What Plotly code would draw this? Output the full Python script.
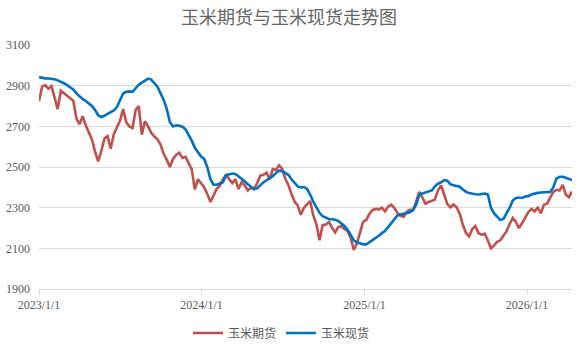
import pandas as pd
import plotly.graph_objects as go

# Weekly closing levels (元/吨), first week starting 2023-01-01
start_date = "2023-01-01"

futures = [
    2824, 2895, 2903, 2885, 2898, 2835, 2785, 2875, 2864, 2850,
    2838, 2826, 2740, 2710, 2750, 2705, 2672, 2634, 2575, 2528,
    2580, 2640, 2652, 2590, 2662, 2700, 2729, 2785, 2720, 2700,
    2692, 2780, 2800, 2660, 2725, 2700, 2668, 2650, 2636, 2610,
    2565, 2535, 2500, 2540, 2560, 2571, 2545, 2550, 2523, 2490,
    2390, 2440, 2420, 2400, 2368, 2328, 2360, 2392, 2408, 2440,
    2460, 2440, 2421, 2440, 2392, 2425, 2410, 2385, 2398, 2392,
    2421, 2458, 2462, 2472, 2440, 2490, 2486, 2508, 2492, 2444,
    2412, 2368, 2330, 2312, 2265, 2300, 2318, 2333, 2262, 2218,
    2140, 2215, 2218, 2230, 2202, 2178, 2205, 2210, 2195, 2185,
    2152, 2092, 2125, 2185, 2232, 2240, 2270, 2288, 2294, 2292,
    2300, 2282, 2305, 2315, 2300, 2275, 2260, 2256, 2280, 2290,
    2288, 2330, 2378, 2350, 2320, 2328, 2333, 2340, 2385, 2410,
    2365, 2318, 2302, 2316, 2302, 2270, 2215, 2175, 2160, 2195,
    2210, 2175, 2168, 2172, 2140, 2100, 2115, 2132, 2140, 2165,
    2185, 2220, 2250, 2230, 2200, 2225, 2250, 2278, 2294, 2282,
    2300, 2272, 2315, 2320, 2350, 2378, 2388, 2385, 2412, 2365,
    2352, 2380,
]

spot = [
    2942, 2938, 2936, 2935, 2934, 2932, 2926, 2920, 2912, 2903,
    2893, 2882, 2862, 2846, 2835, 2825, 2812, 2800, 2780, 2755,
    2746, 2752, 2762, 2770, 2778, 2795, 2825, 2862, 2870, 2872,
    2870, 2890, 2905, 2915, 2925, 2935, 2930, 2915, 2895, 2862,
    2830, 2785, 2720, 2700, 2705, 2703, 2698, 2685, 2660, 2630,
    2595, 2570, 2552, 2540, 2500, 2440, 2413, 2413, 2418, 2425,
    2460, 2465, 2468, 2466, 2455, 2444, 2430, 2415, 2405, 2392,
    2395, 2412, 2425, 2435, 2443, 2455, 2470, 2482, 2480, 2472,
    2462, 2440, 2425, 2405, 2400, 2402, 2392, 2365, 2330, 2300,
    2275, 2258, 2250, 2245, 2243, 2241, 2235, 2223, 2210, 2192,
    2165, 2140, 2130, 2125, 2120, 2120, 2130, 2140, 2152, 2162,
    2175, 2185, 2205, 2223, 2243, 2262, 2267, 2270, 2274, 2278,
    2290, 2315, 2365, 2370, 2375, 2380, 2385, 2405, 2418, 2425,
    2436, 2433, 2415, 2410, 2407, 2403, 2390, 2378, 2372, 2368,
    2366, 2365, 2368, 2370, 2365, 2300, 2272, 2255, 2240, 2245,
    2270, 2300, 2335, 2348, 2350, 2348, 2355, 2357, 2365, 2370,
    2373, 2375, 2377, 2378, 2378, 2400, 2443, 2452, 2452, 2447,
    2442, 2436,
]

year_ticks = ["2023-01-01", "2024-01-01", "2025-01-01", "2026-01-01"]
year_labels = ["2023/1/1", "2024/1/1", "2025/1/1", "2026/1/1"]
y_ticks = [1900, 2100, 2300, 2500, 2700, 2900, 3100]

dates = pd.date_range(start=start_date, periods=len(futures), freq="7D")

FONT = "Liberation Serif, 'Noto Sans CJK SC', serif"
CJK = "'Noto Sans CJK SC', sans-serif"
GRID = "#D9D9D9"
TEXT = "#595959"

fig = go.Figure()
fig.add_trace(go.Scatter(
    x=dates, y=futures, mode="lines", name="玉米期货",
    line=dict(color="#C0504D", width=2.6),
))
fig.add_trace(go.Scatter(
    x=dates, y=spot, mode="lines", name="玉米现货",
    line=dict(color="#0070C0", width=2.6),
))

fig.update_layout(
    width=578, height=350,
    margin=dict(l=35, r=6, t=45, b=52),
    paper_bgcolor="white", plot_bgcolor="white",
    font=dict(family=FONT, size=12, color=TEXT),
    title=dict(
        text="玉米期货与玉米现货走势图",
        x=0.5, xanchor="center", xref="container",
        y=1 - 18 / 350, yanchor="middle", yref="container",
        font=dict(family=CJK, size=18, color="#666666"),
    ),
    showlegend=True,
    legend=dict(
        orientation="h", x=188 / 578, xanchor="left", xref="container",
        y=1 - 333 / 350, yanchor="middle", yref="container",
        font=dict(family=CJK, size=12, color=TEXT),
        itemwidth=30, tracegroupgap=0,
    ),
)

fig.update_xaxes(
    range=[dates[0], dates[-1]],
    tickmode="array", tickvals=year_ticks, ticktext=year_labels,
    showgrid=False, zeroline=False,
    showline=True, linecolor=GRID, linewidth=1,
    ticks="outside", ticklen=5, tickcolor=GRID,
    tickfont=dict(family=FONT, size=12, color=TEXT),
)
fig.update_yaxes(
    range=[1900, 3100],
    tickmode="array", tickvals=y_ticks,
    showgrid=True, gridcolor=GRID, gridwidth=1.2,
    zeroline=False, showline=False, ticks="",
    ticklabelstandoff=8,
    tickfont=dict(family=FONT, size=12, color=TEXT),
)

fig.write_html("out.html")
